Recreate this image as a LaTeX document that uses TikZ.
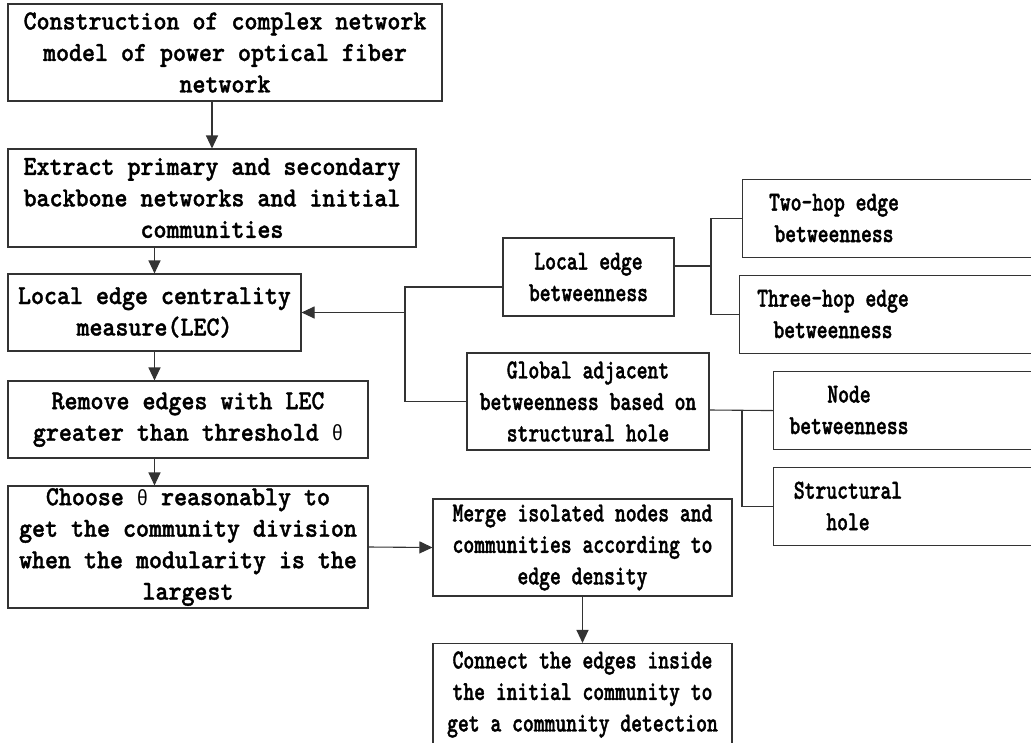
\documentclass[tikz,border=0pt]{standalone}
\usepackage{fontspec}
\usetikzlibrary{arrows.meta}
\newfontfamily\wideMono[FakeStretch=0.90,FakeBold=1.3]{lmmonolt10-bold.otf}
\newfontfamily\narrowMono[FakeStretch=0.75,FakeBold=1.3]{lmmonolt10-bold.otf}
\newfontfamily\thetaFont[FakeStretch=0.85]{Liberation Mono}
\newcommand{\thet}{{\thetaFont\fontsize{22}{22}\selectfont θ}}
\begin{document}
\begin{tikzpicture}[x=1pt,y=-1pt,
  box/.style={draw=black!80,line width=1.1pt,align=center,inner sep=0pt},
  wtext/.style={font=\wideMono\fontsize{27.5}{31.5}\selectfont},
  ntext/.style={font=\narrowMono\fontsize{27.5}{31.5}\selectfont},
  conn/.style={draw=black!80,line width=1.1pt},
  arr/.style={conn,-{Triangle[length=13pt,width=12pt]}}]
\clip (0,0) rectangle (1031,742);
% left column
\node[box,wtext,minimum width=434pt,minimum height=97pt] (b1) at (225,52.5)
  {Construction of complex network\\model of power optical fiber\\network};
\node[box,wtext,minimum width=408pt,minimum height=98pt] (b2) at (212,198)
  {Extract primary and secondary\\backbone networks and initial\\communities};
\node[box,wtext,minimum width=293pt,minimum height=77pt] (b3) at (154.5,312.5)
  {Local edge centrality\\measure(LEC)};
\node[box,wtext,minimum width=360pt,minimum height=77pt] (b4) at (188,419.5)
  {Remove edges with LEC\\greater than threshold \thet};
\node[box,wtext,minimum width=360pt,minimum height=122pt] (b5) at (188,547)
  {Choose \thet{} reasonably to\\get the community division\\when the modularity is the\\largest};
% lower middle
\node[box,ntext,minimum width=299pt,minimum height=97pt] (merge) at (582.5,547.5)
  {Merge isolated nodes and\\communities according to\\edge density};
\node[box,ntext,minimum width=299pt,minimum height=102pt] (connect) at (582.5,694.5)
  {Connect the edges inside\\the initial community to\\get a community detection};
% middle
\node[box,ntext,minimum width=171pt,minimum height=78pt] (local) at (588.5,277)
  {Local edge\\betweenness};
\node[box,ntext,minimum width=242pt,minimum height=97pt] (global) at (588,401.5)
  {Global adjacent\\betweenness based on\\structural hole};
% right boxes (cut by the picture edge)
\node[box,minimum width=320pt,minimum height=78pt,anchor=north west] (twohopbox) at (742,179) {};
\node[ntext,align=center,inner sep=0pt] (twohop) at (834,218) {Two-hop edge\\betweenness};
\node[box,minimum width=320pt,minimum height=78pt,anchor=north west] (threehopbox) at (739,275) {};
\node[ntext,align=center,inner sep=0pt] (threehop) at (833,314) {Three-hop edge\\betweenness};
\node[box,minimum width=320pt,minimum height=78pt,anchor=north west] (nodebox) at (773,371) {};
\node[ntext,align=center,inner sep=0pt] (nodebt) at (849,410) {Node\\betweenness};
\node[box,minimum width=320pt,minimum height=78pt,anchor=north west] (structbox) at (773,467) {};
\node[ntext,align=center,inner sep=0pt] (struct) at (848,506) {Structural\\hole};
% junction coordinates
\coordinate (bx) at (405,312.5);
\coordinate (lx) at (711,266);
\coordinate (gx) at (742,410);
% connectors
\draw[arr] (b2.north |- b1.south) -- (b2.north);
\draw[arr] (b3.north |- b2.south) -- (b3.north);
\draw[arr] (b3.south) -- (b3.south |- b4.north);
\draw[arr] (b3.south |- b4.south) -- (b3.south |- b5.north);
\draw[arr] (b5.east) -- (merge.west);
\draw[arr] (merge.south) -- (connect.north);
\draw[conn] ([yshift=-10pt]local.west) -| (bx) |- (global.west);
\draw[arr] (bx) -- (b3.east);
\draw[conn] ([yshift=11pt]local.east) -- (lx);
\draw[conn] (twohopbox.west) -| (lx) |- (threehopbox.west);
\draw[conn] (global.east |- gx) -- (nodebox.west);
\draw[conn] (gx) |- (structbox.west);
\end{tikzpicture}
\end{document}
